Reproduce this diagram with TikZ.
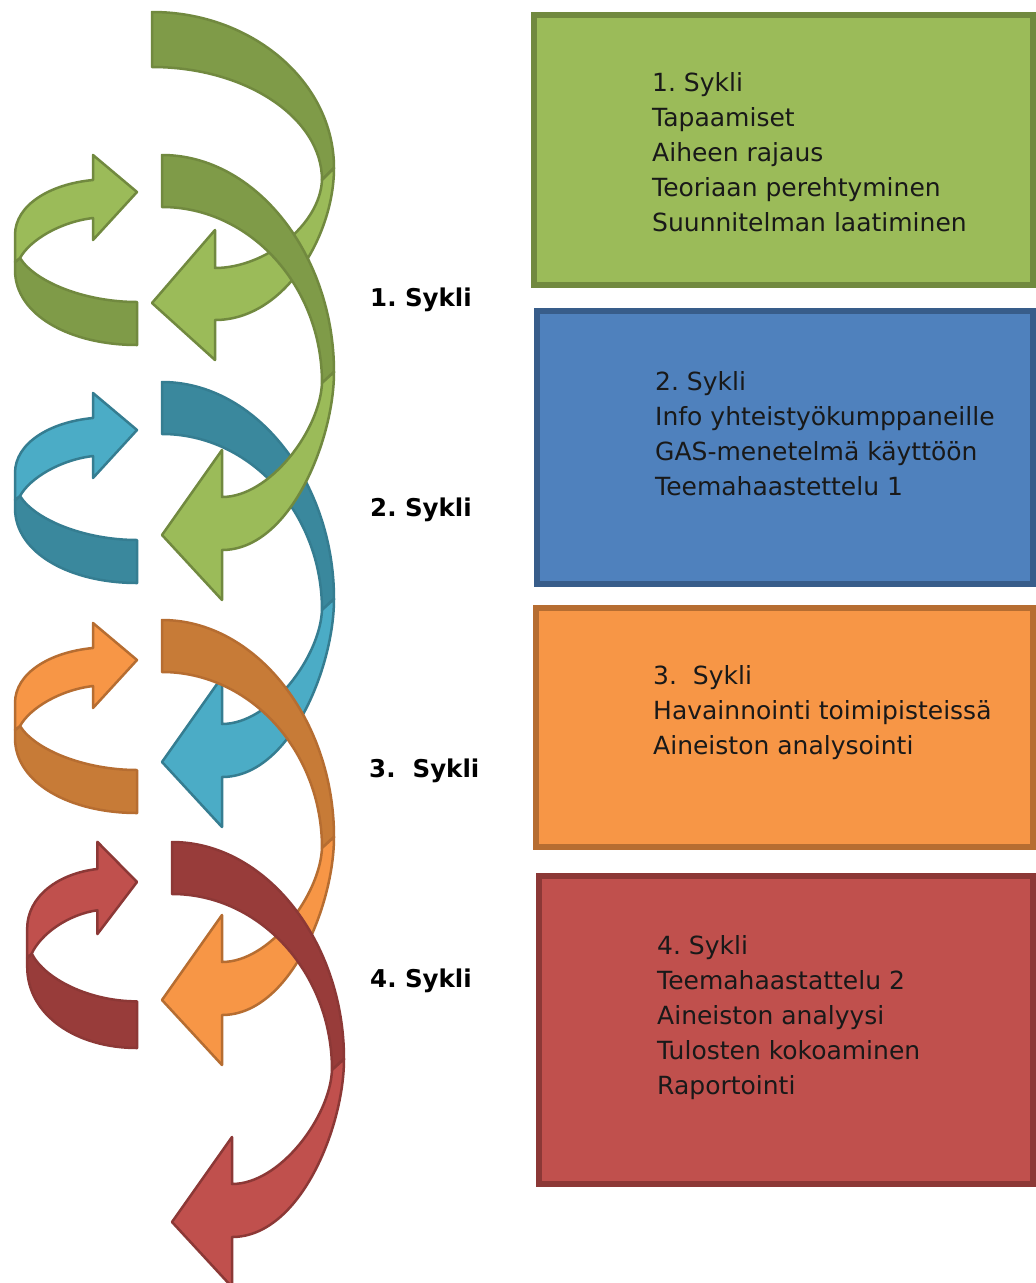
\documentclass[tikz,border=0pt]{standalone}
\usepackage{fontspec}
\setmainfont{DejaVu Sans}
\frenchspacing
\definecolor{gL}{HTML}{9BBB59}\definecolor{gD}{HTML}{7F9B48}\definecolor{gS}{HTML}{71893F}
\definecolor{bL}{HTML}{4BACC6}\definecolor{bD}{HTML}{3A889D}\definecolor{bS}{HTML}{357D91}
\definecolor{oL}{HTML}{F79646}\definecolor{oD}{HTML}{C77B37}\definecolor{oS}{HTML}{B66D31}
\definecolor{rL}{HTML}{C0504D}\definecolor{rD}{HTML}{983C3A}\definecolor{rS}{HTML}{8C3836}
\definecolor{boxB}{HTML}{4F81BD}\definecolor{boxBS}{HTML}{385D8A}
% big arc pieces, relative to tail top corner
\newcommand\arcdark[4]{\begin{scope}[shift={(#1,#2)}]
  \path[rib={#3}{#4}] (0,0) .. controls (94,0) and (172,100) .. (172,217) -- (160,228)
     .. controls (160,131) and (88,52) .. (0,52) -- cycle;\end{scope}}
\newcommand\arclight[4]{\begin{scope}[shift={(#1,#2)}]
  \path[rib={#3}{#4}] (172,217) .. controls (172,285) and (128,395) .. (60,395) -- (60,445)
     -- (0,380) -- (60,295) -- (60,342) .. controls (108,342) and (158,275) .. (160,228) -- cycle;\end{scope}}
% small loop, relative to arrow tip
\newcommand\smallloop[3]{%
  \path[rib={#2}{#3}] (-117,66) .. controls (-102,90) and (-52,110) .. (0,110) -- (0,153)
     .. controls (-67,153) and (-122,123) .. (-122,78) -- (-122,70) -- cycle;
  \path[rib={#1}{#3}] (-122,70) -- (-122,43) .. controls (-122,13) and (-87,-8) .. (-44,-12)
     -- (-44,-37) -- (0,0) -- (-44,48) -- (-44,26) .. controls (-77,30) and (-107,48) .. (-117,66) -- cycle;}
\begin{document}
\begin{tikzpicture}[x=1pt,y=-1pt,
  boxtext/.style={anchor=base west,inner sep=0pt,align=left,font=\fontsize{25}{35}\selectfont,text=black!90},
  lbl/.style={anchor=base west,inner sep=0pt,font=\fontsize{24.5}{30}\selectfont\bfseries},
  rib/.style 2 args={fill=#1,draw=#2,line width=2.5pt,line join=round},
  cbox/.style 2 args={fill=#1,draw=#2,line width=6pt}]
\useasboundingbox (0,0) rectangle (1036,1283);
\fill[white] (0,0) rectangle (1036,1283);
\clip (0,0) rectangle (1036,1283);

% boxes
\draw[cbox={gL}{gS}] (534,15) rectangle (1033,285);
\draw[cbox={boxB}{boxBS}] (537,311) rectangle (1033,584);
\draw[cbox={oL}{oS}] (536,608) rectangle (1033,847);
\draw[cbox={rL}{rS}] (539,876) rectangle (1033,1184);

% (base anchor = baseline of the last line)
\node[boxtext] (t1) at (652,231) {1. Sykli\\Tapaamiset\\Aiheen rajaus\\Teoriaan perehtyminen\\Suunnitelman laatiminen};
\node[boxtext] (t2) at (655,495) {2. Sykli\\Info yhteistyökumppaneille\\GAS-menetelmä käyttöön\\Teemahaastettelu 1};
\node[boxtext] (t3) at (653,754) {3.\ \ Sykli\\Havainnointi toimipisteissä\\Aineiston analysointi};
\node[boxtext] (t4) at (657,1094) {4. Sykli\\Teemahaastattelu 2\\Aineiston analyysi\\Tulosten kokoaminen\\Raportointi};

% labels
\node[lbl] (l1) at (370,306) {1. Sykli};
\node[lbl] (l2) at (370,516) {2. Sykli};
\node[lbl] (l3) at (369,777) {3.\ \ Sykli};
\node[lbl] (l4) at (370,987) {4. Sykli};

% small loops
\begin{scope}[shift={(137,192)}]\smallloop{gL}{gD}{gS}\end{scope}
\begin{scope}[shift={(137,430)}]\smallloop{bL}{bD}{bS}\end{scope}
\begin{scope}[shift={(137,660)}]\smallloop{oL}{oD}{oS}\end{scope}
\begin{scope}[shift={(137,882)},xscale=0.9,yscale=1.085]\smallloop{rL}{rD}{rS}\end{scope}

% green arc 1
\path[rib={gD}{gS}] (152,12) .. controls (252,12) and (334,82) .. (334,168) -- (322,180)
   .. controls (322,118) and (246,67) .. (152,67) -- cycle;
\path[rib={gL}{gS}] (334,168) .. controls (334,235) and (285,320) .. (215,320) -- (215,360)
   -- (152,303) -- (215,230) -- (215,268) .. controls (265,268) and (320,225) .. (322,180) -- cycle;
% big arcs
\arcdark{162}{382}{bD}{bS}
\arcdark{162}{155}{gD}{gS}
\arclight{162}{155}{gL}{gS}
\arclight{162}{382}{bL}{bS}
\arcdark{162}{620}{oD}{oS}
\arclight{162}{620}{oL}{oS}
\arcdark{172}{842}{rD}{rS}
\arclight{172}{842}{rL}{rS}
\end{tikzpicture}
\end{document}
